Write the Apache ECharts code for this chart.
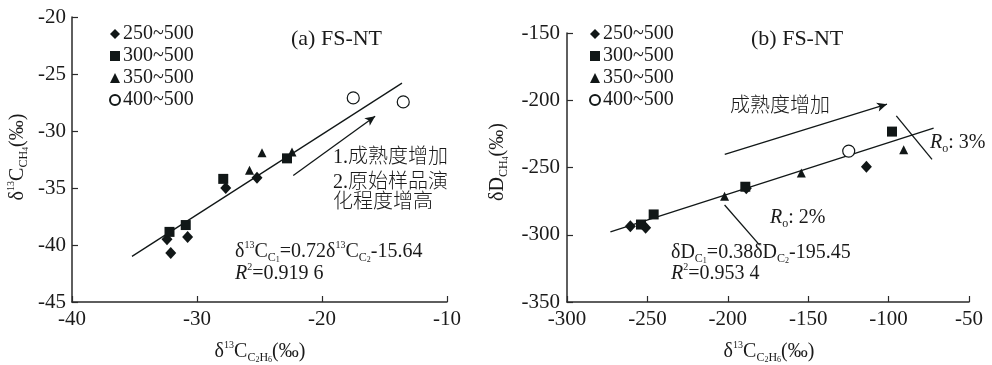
<!DOCTYPE html>
<html>
<head>
<meta charset="utf-8">
<script src="https://cdn.jsdelivr.net/npm/echarts@6/dist/echarts.min.js"></script>
<style>html,body{margin:0;padding:0;background:#fff}#c{width:992px;height:365px}</style>
</head>
<body>
<div id="c"></div>
<script>
// ---- data ----
const seriesNames = ['250~500', '300~500', '350~500', '400~500'];

// (a) FS-NT : d13C C2H6 (x) vs d13C CH4 (y)
const leftDiamond  = [[-32.4, -39.5], [-32.1, -40.7], [-30.75, -39.3], [-27.7, -35.0], [-25.2, -34.1]];
const leftSquare   = [[-32.2, -38.85], [-30.9, -38.25], [-27.9, -34.2], [-22.8, -32.4]];
const leftTriangle = [[-25.8, -33.45], [-24.8, -31.9], [-22.4, -31.85]];
const leftCircle   = [[-17.5, -27.1], [-13.5, -27.45]];
const leftFit      = [[-35.2, -41.0], [-13.6, -25.8]];
const leftArrow    = [[-22.3, -33.9], [-15.75, -28.7]];

// (b) FS-NT : d13C C2H6 (x) vs dD CH4 (y)
const rightDiamond  = [[-260.6, -293.6], [-251.1, -294.8], [-188.5, -265.5], [-113.8, -249.4]];
const rightSquare   = [[-254, -292.4], [-246.1, -284.9], [-189.1, -264.3], [-97.9, -223.3]];
const rightTriangle = [[-202, -271.3], [-154.3, -254.0], [-90.6, -236.8]];
const rightCircle   = [[-124.8, -237.8]];
const rightFit      = [[-273, -297.9], [-72, -220.8]];
const rightArrow    = [[-201.9, -240.2], [-101, -202.9]];
const ro2Line       = [[-202, -277.9], [-180.2, -307.7]];
const ro3Line       = [[-95.2, -211.6], [-73, -243.9]];

// axis ranges / ticks
const leftX  = {min: -40, max: -10, interval: 10};
const leftY  = {min: -45, max: -20, interval: 5};
const rightX = {min: -300, max: -50, interval: 50};
const rightY = {min: -350, max: -150, interval: 50};

// ---- styling ----
const INK = '#111717';
const TXT = '#1a1a1a';
const SERIF = 'Liberation Serif';
const MIX = 'Liberation Serif, Noto Sans CJK SC';

const chart = echarts.init(document.getElementById('c'), null, {renderer: 'canvas'});

function axisX(idx, r) {
  return {
    type: 'value', gridIndex: idx, min: r.min, max: r.max, interval: r.interval,
    axisLine: {onZero: false, lineStyle: {color: '#2a2a2a', width: 1.5}},
    axisTick: {inside: true, length: 6, lineStyle: {color: '#2a2a2a', width: 1.2}},
    axisLabel: {margin: 7, fontSize: 21, fontFamily: SERIF, color: TXT},
    splitLine: {show: false}
  };
}
function axisY(idx, r, margin) {
  return {
    type: 'value', gridIndex: idx, min: r.min, max: r.max, interval: r.interval,
    axisLine: {show: true, onZero: false, lineStyle: {color: '#2a2a2a', width: 1.5}},
    axisTick: {show: true, inside: true, length: 6, lineStyle: {color: '#2a2a2a', width: 1.2}},
    axisLabel: {margin: margin, fontSize: 21, fontFamily: SERIF, color: TXT},
    splitLine: {show: false}
  };
}

const symbolDefs = [
  {symbol: 'diamond', size: [11, 12], style: {color: INK, opacity: 1}},
  {symbol: 'rect', size: 10, style: {color: INK, opacity: 1}},
  {symbol: 'triangle', size: [9, 9], style: {color: INK, opacity: 1}},
  {symbol: 'circle', size: 12, style: {color: '#fff', borderColor: INK, borderWidth: 1.2, opacity: 1}}
];

function lineSeries(idx, data) {
  return {
    type: 'line', xAxisIndex: idx, yAxisIndex: idx, data: data, symbol: 'none',
    lineStyle: {color: INK, width: 1.3}, silent: true, z: 1, animation: false
  };
}
function arrowSeries(idx, pts) {
  return {
    type: 'line', xAxisIndex: idx, yAxisIndex: idx, data: [], symbol: 'none', silent: true, animation: false,
    markLine: {
      silent: true, animation: false,
      symbol: ['none', 'arrow'], symbolSize: [7, 10],
      label: {show: false},
      lineStyle: {color: INK, width: 1.3, type: 'solid'},
      data: [[{coord: pts[0]}, {coord: pts[1]}]]
    }
  };
}
function scatterSeries(idx, k, data) {
  const d = symbolDefs[k];
  return {
    type: 'scatter', name: seriesNames[k], xAxisIndex: idx, yAxisIndex: idx, data: data,
    symbol: d.symbol, symbolSize: d.size, itemStyle: d.style, z: 3, animation: false
  };
}

// rich text styles
const rich = {
  b:   {fontSize: 20, fontFamily: SERIF, color: TXT, lineHeight: 24},
  it:  {fontSize: 20, fontFamily: SERIF, color: TXT, lineHeight: 24, fontStyle: 'italic'},
  sup: {fontSize: 10, fontFamily: SERIF, color: TXT, lineHeight: 12, verticalAlign: 'top'},
  sub: {fontSize: 12, fontFamily: SERIF, color: TXT, lineHeight: 21, verticalAlign: 'bottom'},
  sub2:{fontSize: 8,  fontFamily: SERIF, color: TXT, lineHeight: 17, verticalAlign: 'bottom'},
  cn:  {fontSize: 20, fontFamily: MIX, color: TXT, lineHeight: 24, fontWeight: 300},
  ttl: {fontSize: 22, fontFamily: SERIF, color: TXT, lineHeight: 24}
};
function txt(x, y, text, opts) {
  opts = opts || {};
  return {
    type: 'text', x: x, y: y, rotation: opts.rotation || 0, silent: true, z: 10,
    style: {text: text, rich: rich, align: opts.align || 'left', verticalAlign: 'middle', fill: TXT}
  };
}

const texts = [
  // (a)
  txt(291, 39, '{ttl|(a) FS-NT}'),
  txt(333, 158, '{cn|1.成熟度增加}'),
  txt(333, 183, '{cn|2.原始样品演}'),
  txt(333, 203, '{cn|化程度增高}'),
  txt(235, 252, '{b|δ}{sup|13}{b|C}{sub|C}{sub2|1}{b|=0.72δ}{sup|13}{b|C}{sub|C}{sub2|2}{b|-15.64}'),
  txt(235, 274, '{it|R}{sup|2}{b|=0.919 6}'),
  txt(260, 352, '{b|δ}{sup|13}{b|C}{sub|C}{sub2|2}{sub|H}{sub2|6}{b|(‰)}', {align: 'center'}),
  txt(18, 157, '{b|δ}{sup|13}{b|C}{sub|CH}{sub2|4}{b|(‰)}', {align: 'center', rotation: Math.PI / 2}),
  // (b)
  txt(751, 39, '{ttl|(b) FS-NT}'),
  txt(730, 107, '{cn|成熟度增加}'),
  txt(770, 218, '{it|R}{sub|o}{b|: 2%}'),
  txt(930, 143, '{it|R}{sub|o}{b|: 3%}'),
  txt(671, 253, '{b|δD}{sub|C}{sub2|1}{b|=0.38δD}{sub|C}{sub2|2}{b|-195.45}'),
  txt(671, 274, '{it|R}{sup|2}{b|=0.953 4}'),
  txt(769, 352, '{b|δ}{sup|13}{b|C}{sub|C}{sub2|2}{sub|H}{sub2|6}{b|(‰)}', {align: 'center'}),
  txt(498, 162, '{b|δD}{sub|CH}{sub2|4}{b|(‰)}', {align: 'center', rotation: Math.PI / 2})
];

function legend(left) {
  return {
    orient: 'vertical', left: left, top: 24, padding: 0, itemGap: 2,
    itemWidth: 10, itemHeight: 10, selectedMode: false,
    data: seriesNames,
    textStyle: {fontSize: 20, fontFamily: SERIF, color: TXT, lineHeight: 20, padding: [0, 0, 0, -2]}
  };
}

chart.setOption({
  animation: false,
  backgroundColor: '#fff',
  grid: [
    {left: 72, top: 17, width: 375, height: 285},
    {left: 567, top: 33, width: 402, height: 269}
  ],
  xAxis: [axisX(0, leftX), axisX(1, rightX)],
  yAxis: [axisY(0, leftY, 6), axisY(1, rightY, 7)],
  legend: [legend(109), legend(589)],
  series: [
    lineSeries(0, leftFit),
    arrowSeries(0, leftArrow),
    scatterSeries(0, 0, leftDiamond),
    scatterSeries(0, 1, leftSquare),
    scatterSeries(0, 2, leftTriangle),
    scatterSeries(0, 3, leftCircle),
    lineSeries(1, rightFit),
    lineSeries(1, ro2Line),
    lineSeries(1, ro3Line),
    arrowSeries(1, rightArrow),
    scatterSeries(1, 0, rightDiamond),
    scatterSeries(1, 1, rightSquare),
    scatterSeries(1, 2, rightTriangle),
    scatterSeries(1, 3, rightCircle)
  ],
  graphic: texts
});
</script>
</body>
</html>
